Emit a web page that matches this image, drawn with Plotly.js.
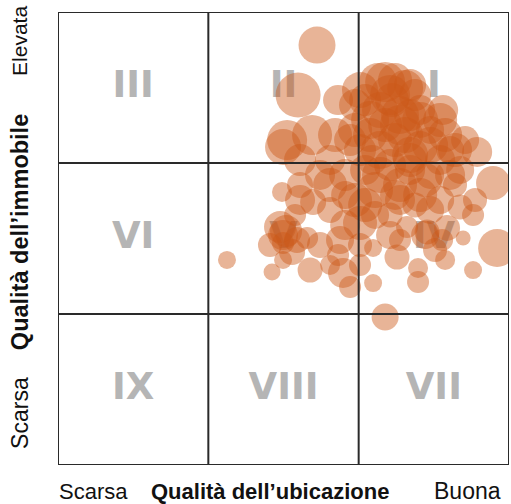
<!DOCTYPE html>
<html>
<head>
<meta charset="utf-8">
<script src="https://cdn.plot.ly/plotly-3.0.1.min.js"></script>
<style>html,body{margin:0;padding:0;background:#fff;}#chart{width:511px;height:504px;}</style>
</head>
<body>
<div id="chart"></div>
<script>
// Quality of location (x, 0-3) and quality of property (y, 0-3), bubble size
const locQuality = [1.723,1.597,1.863,1.524,1.690,1.843,1.497,1.943,1.610,1.810,
  2.176,2.309,2.409,2.562,2.043,2.142,2.275,2.409,2.575,2.708,
  2.788,2.076,2.242,2.409,2.009,2.542,1.976,2.894,2.675,2.774,
  2.675,2.761,2.695,2.921,2.761,2.555,2.455,2.322,2.255,2.395,
  2.395,2.096,2.096,2.176,2.009,1.976,2.109,2.275,2.442,2.542,
  1.910,1.743,1.610,1.490,1.697,1.810,1.876,1.743,1.657,1.477,
  1.497,1.497,1.424,1.124,1.677,1.896,1.943,1.810,2.009,2.209,
  2.375,2.043,2.209,2.342,2.475,2.641,1.863,1.577,2.275,2.575,
  2.222,2.342,2.176,2.309,2.475,2.608,2.089,2.242,1.910,2.009,
  2.129,2.242,2.342,2.009,2.209,2.375,2.542,2.076,2.275,2.475,
  2.641,2.142,2.342,1.976,1.810,2.142,2.409,2.608,2.043,1.610,
  1.910,2.209,1.497,1.557,1.410,2.442,2.588,2.508,2.275,2.475,
  2.109,2.342,1.517,1.590];
const propQuality = [2.781,2.450,2.417,2.152,2.185,2.185,2.106,2.152,2.020,2.020,
  2.536,2.497,2.351,2.351,2.417,2.351,2.318,2.285,2.185,2.152,
  2.073,2.185,2.152,2.099,2.086,2.020,2.384,1.868,1.954,1.755,
  1.709,1.656,1.503,1.437,1.291,1.490,1.543,1.576,1.377,1.212,
  1.305,1.437,1.205,0.980,1.603,1.755,1.821,1.854,1.887,1.755,
  1.921,1.921,1.854,1.808,1.742,1.689,1.490,1.457,1.503,1.576,
  1.470,1.358,1.278,1.358,1.291,1.272,1.179,1.325,1.325,1.656,
  1.722,1.954,1.987,2.020,1.921,1.854,1.391,1.656,1.490,1.358,
  2.417,2.318,2.252,2.185,2.219,2.086,2.020,1.788,1.788,1.457,
  2.536,2.550,2.517,2.483,2.450,2.450,2.285,2.285,2.252,2.119,
  2.086,2.086,2.053,2.219,1.854,1.921,1.788,1.921,1.722,1.755,
  1.589,1.523,1.523,1.411,1.457,1.523,1.570,1.424,1.755,1.689,
  1.656,1.954,1.550,1.490];
const bubbleSize = [37,45,30,40,40,34,36,32,32,30,
  40,36,30,30,32,36,38,36,34,28,
  30,34,34,34,32,30,32,34,28,24,
  25,22,15,38,18,22,25,22,25,22,
  20,18,18,27,34,34,36,34,34,28,
  32,30,26,20,26,26,28,26,22,32,
  22,18,17,18,25,30,22,20,22,25,
  25,30,32,34,28,24,22,22,22,20,
  34,32,34,36,28,28,30,30,28,24,
  38,34,32,36,40,32,34,38,40,36,
  34,38,36,34,34,36,34,30,34,30,
  30,28,30,26,24,28,26,24,30,28,
  28,30,32,26];
const quadrantLabels = ['III','II','I','VI','V','IV','IX','VIII','VII'];
const quadrantX = [0.5,1.5,2.5,0.5,1.5,2.5,0.5,1.5,2.5];
const quadrantY = [2.5,2.5,2.5,1.5,1.5,1.5,0.5,0.5,0.5];

const traces = [
  {
    type: 'scatter', mode: 'text',
    x: quadrantX, y: quadrantY, text: quadrantLabels,
    textfont: {family: 'DejaVu Sans, sans-serif', size: 37, color: '#b5b5b5', weight: 'bold'},
    hoverinfo: 'skip', showlegend: false
  },
  {
    type: 'scatter', mode: 'markers',
    x: locQuality, y: propQuality,
    marker: {size: bubbleSize, sizemode: 'diameter', color: 'rgb(205,88,25)', opacity: 0.45, line: {width: 0}},
    showlegend: false
  }
];

const lineStyle = {color: '#2a2a2a', width: 2};
const shapes = [
  {type: 'rect', xref: 'x', yref: 'y', x0: 0, x1: 3, y0: 0, y1: 3, line: lineStyle, layer: 'above'},
  {type: 'line', xref: 'x', yref: 'y', x0: 1, x1: 1, y0: 0, y1: 3, line: lineStyle, layer: 'above'},
  {type: 'line', xref: 'x', yref: 'y', x0: 2, x1: 2, y0: 0, y1: 3, line: lineStyle, layer: 'above'},
  {type: 'line', xref: 'x', yref: 'y', x0: 0, x1: 3, y0: 1, y1: 1, line: lineStyle, layer: 'above'},
  {type: 'line', xref: 'x', yref: 'y', x0: 0, x1: 3, y0: 2, y1: 2, line: lineStyle, layer: 'above'}
];

const fam = 'Liberation Sans, Arial, sans-serif';
function ann(text, x, y, size, angle) {
  return {text: text, x: x, y: y, xref: 'paper', yref: 'paper', showarrow: false,
    xanchor: 'center', yanchor: 'middle', textangle: angle || 0,
    font: {family: fam, size: size, color: '#111'}};
}
const annotations = [
  ann('Scarsa', 0.0798, -0.0574, 22),
  ann('<b>Qualità dell’ubicazione</b>', 0.470, -0.0574, 22),
  ann('Buona', 0.909, -0.0574, 23),
  ann('Elevata', -0.0843, 0.936, 21, -90),
  ann('<b>Qualità dell’immobile</b>', -0.0843, 0.514, 23.5, -90),
  ann('Scarsa', -0.0843, 0.115, 23, -90)
];

const layout = {
  width: 511, height: 504,
  margin: {l: 58, r: 2, t: 12, b: 39},
  paper_bgcolor: '#fff', plot_bgcolor: '#fff',
  xaxis: {range: [0, 3], showgrid: false, zeroline: false, showticklabels: false, ticks: '', showline: false, fixedrange: true},
  yaxis: {range: [0, 3], showgrid: false, zeroline: false, showticklabels: false, ticks: '', showline: false, fixedrange: true},
  shapes: shapes,
  annotations: annotations,
  showlegend: false,
  hovermode: false
};

Plotly.newPlot('chart', traces, layout, {displayModeBar: false, staticPlot: true});
</script>
</body>
</html>
